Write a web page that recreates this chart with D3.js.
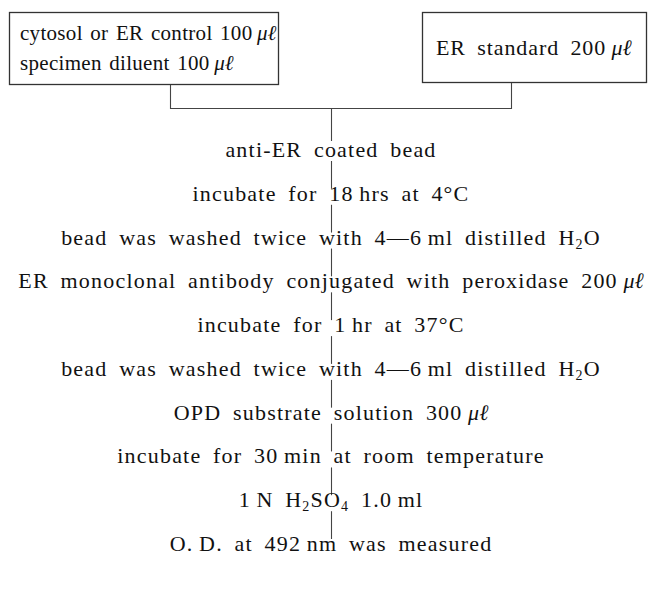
<!DOCTYPE html>
<html>
<head>
<meta charset="utf-8">
<script src="https://cdn.jsdelivr.net/npm/d3@7"></script>
<style>
  body { margin: 0; background: #fff; }
  svg text { font-family: "Liberation Serif", "Times New Roman", serif; fill: #111; }
</style>
</head>
<body>
<div class="chart"></div>
<script>
// 数据: "_x" = 下标, "{...}" = 斜体
var leftBox = ['cytosol or ER control 100\u2009{μℓ}', 'specimen diluent 100\u2009{μℓ}'];
var rightBox = ['ER standard 200\u2009{μℓ}'];
var steps = [
  'anti-ER coated bead',
  'incubate for 18\u2009hrs at 4°C',
  'bead was washed twice with 4—6\u2009ml distilled H_2O',
  'ER monoclonal antibody conjugated with peroxidase 200\u2009{μℓ}',
  'incubate for 1\u2009hr at 37°C',
  'bead was washed twice with 4—6\u2009ml distilled H_2O',
  'OPD substrate solution 300\u2009{μℓ}',
  'incubate for 30\u2009min at room temperature',
  '1\u2009N H_2SO_4 1.0\u2009ml',
  'O.\u2009D. at 492\u2009nm was measured'
];

var width = 648, height = 600;
var cx = 331;

var svg = d3.select('.chart').append('svg')
  .attr('width', width)
  .attr('height', height);

// 把字符串拆成 tspan 片段
function parts(s) {
  var out = [], re = /_(.)|\{([^}]*)\}|([^_{]+)/g, m;
  while ((m = re.exec(s))) {
    if (m[1]) out.push({ t: m[1], sub: true });
    else if (m[2]) out.push({ t: m[2], it: true });
    else out.push({ t: m[3] });
  }
  return out;
}

function writeText(sel) {
  sel.each(function (d) {
    var t = d3.select(this);
    var shifted = false;
    parts(d).forEach(function (p) {
      var sp = t.append('tspan').text(p.t);
      if (p.sub) {
        sp.attr('font-size', 14).attr('dy', shifted ? 0 : 4);
        shifted = true;
      } else {
        if (shifted) { sp.attr('dy', -4); shifted = false; }
        if (p.it) sp.attr('font-style', 'italic').attr('letter-spacing', 0);
      }
    });
  });
}

// y 比例尺
var y = d3.scalePoint()
  .domain(d3.range(steps.length))
  .range([157, 551]);

// 顶部两个方框
var boxStroke = '#333';
svg.append('rect')
  .attr('x', 9.5).attr('y', 12.5)
  .attr('width', 269).attr('height', 72)
  .attr('fill', 'none').attr('stroke', boxStroke).attr('stroke-width', 1.3);
svg.append('rect')
  .attr('x', 422.5).attr('y', 12.5)
  .attr('width', 224).attr('height', 70)
  .attr('fill', 'none').attr('stroke', boxStroke).attr('stroke-width', 1.3);

var lineY = d3.scalePoint().domain(d3.range(leftBox.length)).range([40, 70]);
svg.append('g').selectAll('text')
  .data(leftBox)
  .enter()
  .append('text')
  .attr('x', 20)
  .attr('y', function (d, i) { return lineY(i); })
  .attr('font-family', 'Liberation Serif')
  .attr('font-size', 21)
  .attr('letter-spacing', 0.3)
  .attr('word-spacing', 2)
  .call(writeText);

svg.append('g').selectAll('text')
  .data(rightBox)
  .enter()
  .append('text')
  .attr('x', 436)
  .attr('y', 55)
  .attr('font-family', 'Liberation Serif')
  .attr('font-size', 22)
  .attr('letter-spacing', 0.9)
  .attr('word-spacing', 5)
  .call(writeText);

// 括号连线
var bracket = svg.append('g')
  .attr('stroke', '#444')
  .attr('stroke-width', 1.1)
  .attr('fill', 'none');
bracket.append('path')
  .attr('d', 'M170.5,85 V108.5 H511.5 V83');
bracket.append('line')
  .attr('x1', cx + 0.5).attr('x2', cx + 0.5)
  .attr('y1', 108.5).attr('y2', y(0) - 16);

// 步骤之间的竖线
svg.append('g')
  .selectAll('line')
  .data(d3.range(steps.length - 1))
  .enter()
  .append('line')
  .attr('x1', cx + 0.5).attr('x2', cx + 0.5)
  .attr('y1', function (i) { return y(i) + 4; })
  .attr('y2', function (i) { return y(i + 1) - 12; })
  .attr('stroke', '#444')
  .attr('stroke-width', 1.1);

// 步骤文字
svg.append('g').selectAll('text')
  .data(steps)
  .enter()
  .append('text')
  .attr('x', cx)
  .attr('y', function (d, i) { return y(i); })
  .attr('text-anchor', 'middle')
  .attr('font-family', 'Liberation Serif')
  .attr('font-size', 22)
  .attr('letter-spacing', 1.2)
  .attr('word-spacing', 5)
  .call(writeText);
</script>
</body>
</html>
